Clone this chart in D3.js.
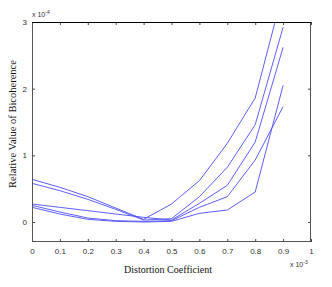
<!DOCTYPE html>
<html>
<head>
<meta charset="utf-8">
<script src="https://cdn.jsdelivr.net/npm/d3@7"></script>
<style>
  body { margin: 0; background: #fff; }
  svg { display: block; }
  .tick text { font-family: "Liberation Sans", Arial, sans-serif; font-size: 8px; fill: #333; }
  .lbl { font-family: "Liberation Serif", "Times New Roman", serif; font-size: 10px; fill: #111; }
</style>
</head>
<body>
<svg id="chart" width="332" height="287"></svg>
<script>
// distortion coefficient (x 10^-3)
var xs = [0, 0.1, 0.2, 0.3, 0.4, 0.5, 0.6, 0.7, 0.8, 0.9];

// relative bicoherence (x 10^-4), one array per curve
var s1 = [0.64, 0.52, 0.38, 0.21, 0.04, 0.27, 0.62, 1.18, 1.86, 3.46];
var s2 = [0.58, 0.47, 0.34, 0.19, 0.03, 0.05, 0.38, 0.82, 1.46, 2.92];
var s3 = [0.27, 0.22, 0.17, 0.12, 0.07, 0.03, 0.28, 0.55, 1.20, 2.62];
var s4 = [0.25, 0.15, 0.06, 0.02, 0.01, 0.02, 0.22, 0.38, 0.93, 1.73];
var s5 = [0.22, 0.12, 0.04, 0.01, 0.00, 0.01, 0.13, 0.18, 0.45, 2.05];
var series = [s1, s2, s3, s4, s5];

var xTicks = [0, 0.1, 0.2, 0.3, 0.4, 0.5, 0.6, 0.7, 0.8, 0.9, 1];
var yTicks = [0, 1, 2, 3];

drawChart();

function drawChart() {
    var svg = d3.select('#chart'),
        left = 32, right = 311, top = 22, bottom = 242;

    var x = d3.scaleLinear().domain([0, 1]).range([left, right]),
        y = d3.scaleLinear().domain([-0.3, 3]).range([bottom, top]);

    // clip the curves to the axes box
    svg.append('clipPath').attr('id', 'clip')
        .append('rect')
        .attr('x', left).attr('y', top)
        .attr('width', right - left).attr('height', bottom - top);

    var line = d3.line()
        .x(function (d, i) { return x(xs[i]); })
        .y(function (d) { return y(d); });

    svg.append('g').attr('clip-path', 'url(#clip)')
        .selectAll('path').data(series)
        .enter()
        .append('path')
        .attr('d', line)
        .attr('fill', 'none')
        .attr('stroke', '#4d4dff')
        .attr('stroke-width', 0.9);

    // axes with inward ticks on all four sides (matlab box)
    function styleAxis(g) {
        g.select('.domain').remove();
        g.selectAll('.tick line').attr('stroke', '#444');
    }

    svg.append('g').attr('transform', 'translate(0,' + bottom + ')')
        .call(d3.axisBottom(x).tickValues(xTicks).tickSize(-3).tickPadding(6)
            .tickFormat(function (d) { return d === 0 || d === 1 ? d : d3.format('.1f')(d); }))
        .call(styleAxis);

    svg.append('g').attr('transform', 'translate(0,' + top + ')')
        .call(d3.axisTop(x).tickValues(xTicks).tickSize(-3).tickFormat(''))
        .call(styleAxis);

    svg.append('g').attr('transform', 'translate(' + left + ',0)')
        .call(d3.axisLeft(y).tickValues(yTicks).tickSize(-3).tickPadding(5)
            .tickFormat(d3.format('d')))
        .call(styleAxis);

    svg.append('g').attr('transform', 'translate(' + right + ',0)')
        .call(d3.axisRight(y).tickValues(yTicks).tickSize(-3).tickFormat(''))
        .call(styleAxis);

    svg.selectAll('.tick text').attr('fill', '#333');

    // box
    svg.append('rect')
        .attr('x', left + 0.5).attr('y', top + 0.5)
        .attr('width', right - left - 1).attr('height', bottom - top - 1)
        .attr('fill', 'none')
        .attr('stroke', '#555')
        .attr('stroke-width', 1);
    svg.append('line')
        .attr('x1', left).attr('x2', right)
        .attr('y1', top + 0.5).attr('y2', top + 0.5)
        .attr('stroke', '#000');

    // exponent labels
    var expY = svg.append('text')
        .attr('x', left).attr('y', top - 5)
        .style('font-family', '"Liberation Sans", Arial, sans-serif')
        .style('font-size', '7px').attr('fill', '#333');
    expY.append('tspan').text('x 10');
    expY.append('tspan').attr('dy', -3).style('font-size', '5px').text('-4');

    var expX = svg.append('text')
        .attr('x', 290).attr('y', 267)
        .style('font-family', '"Liberation Sans", Arial, sans-serif')
        .style('font-size', '7px').attr('fill', '#333');
    expX.append('tspan').text('x 10');
    expX.append('tspan').attr('dy', -3).style('font-size', '5px').text('-3');

    // axis titles
    svg.append('text').attr('class', 'lbl')
        .attr('x', 168).attr('y', 273)
        .attr('text-anchor', 'middle')
        .text('Distortion Coefficient');

    svg.append('text').attr('class', 'lbl')
        .attr('transform', 'translate(16,124) rotate(-90)')
        .attr('text-anchor', 'middle')
        .style('font-size', '10.5px')
        .text('Relative Value of Bicoherence');
}
</script>
</body>
</html>
